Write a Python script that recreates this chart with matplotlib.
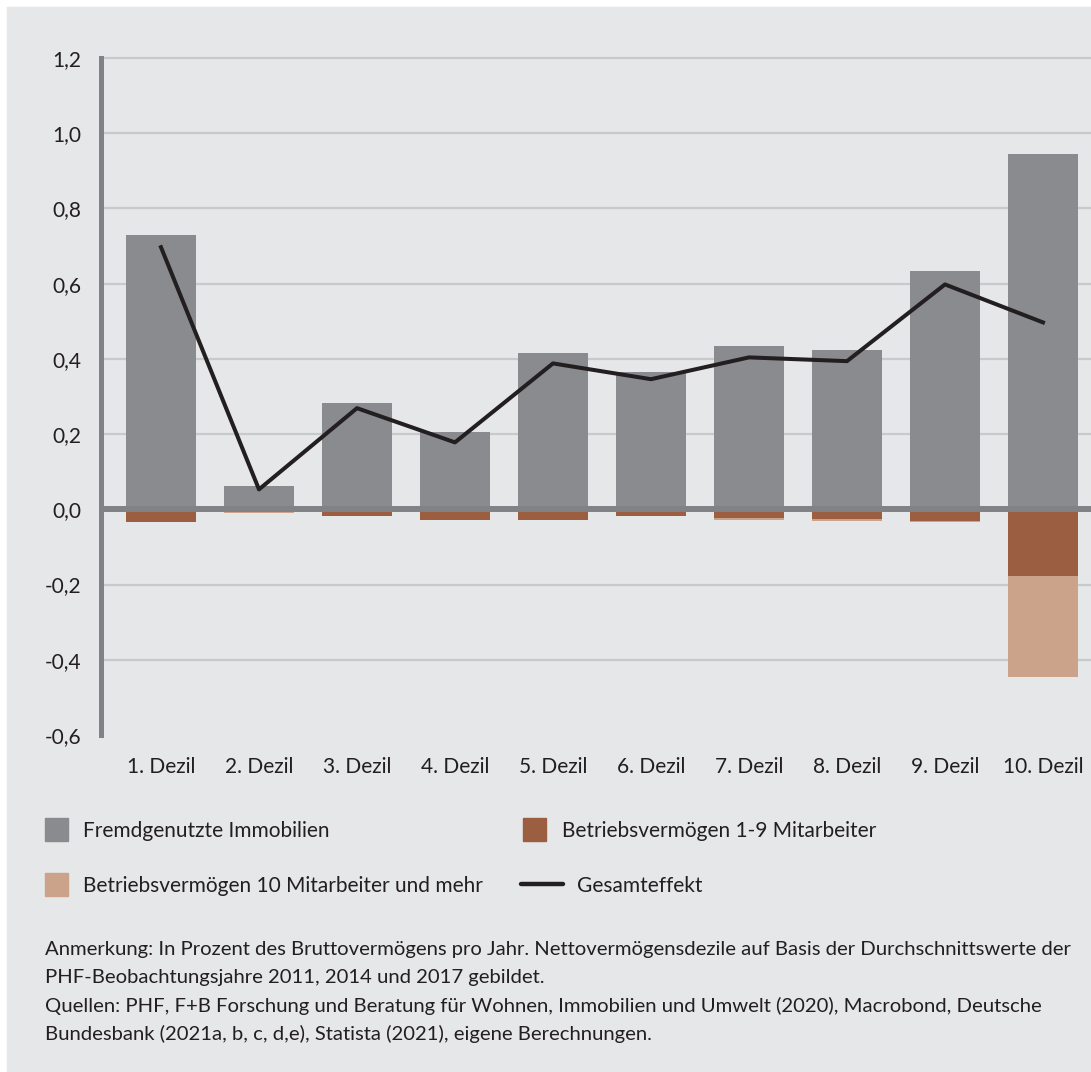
import matplotlib
matplotlib.use("Agg")
import matplotlib.pyplot as plt
from matplotlib.patches import Rectangle
from matplotlib.lines import Line2D

W, H = 1091, 1072
BG = "#e6e7e8"
GRID = "#c8c9cb"
AXIS = "#808285"
TEXT = "#231f20"
GRAY = "#8a8b8e"
BROWN = "#9b5e40"
LIGHT = "#cba38a"

categories = ["1. Dezil", "2. Dezil", "3. Dezil", "4. Dezil", "5. Dezil",
              "6. Dezil", "7. Dezil", "8. Dezil", "9. Dezil", "10. Dezil"]
immobilien = [0.729, 0.061, 0.282, 0.205, 0.415, 0.364, 0.434, 0.423, 0.633, 0.944]
betrieb_1_9 = [-0.034, -0.003, -0.019, -0.029, -0.029, -0.019, -0.024, -0.027, -0.032, -0.178]
betrieb_10 = [0.0, -0.008, 0.0, 0.0, 0.0, 0.0, -0.005, -0.005, -0.003, -0.269]
gesamt = [0.697, 0.053, 0.269, 0.178, 0.388, 0.346, 0.404, 0.394, 0.598, 0.497]
y_ticks = [-0.6, -0.4, -0.2, 0.0, 0.2, 0.4, 0.6, 0.8, 1.0, 1.2]
y_labels = ["-0,6", "-0,4", "-0,2", "0,0", "0,2", "0,4", "0,6", "0,8", "1,0", "1,2"]

plt.rcParams["font.family"] = ["Lato", "DejaVu Sans"]
plt.rcParams["text.color"] = TEXT
FS = 15


def main():
    fig = plt.figure(figsize=(W / 100, H / 100), dpi=100, facecolor="white")
    fig.patches.append(Rectangle((7 / W, 0), 1 - 7 / W, 1 - 7 / H,
                                 transform=fig.transFigure, color=BG, zorder=-5))

    ax = fig.add_axes([101 / W, 1 - 735 / H, 1 - 101 / W, (735 - 58) / H])
    ax.set_facecolor(BG)
    x = list(range(len(categories)))

    for t in y_ticks:
        if t not in (0.0, -0.6):
            ax.axhline(t, color=GRID, lw=1.6, zorder=1, clip_on=False)

    ax.bar(x, immobilien, width=0.72, color=GRAY, zorder=2)
    ax.bar(x, betrieb_1_9, width=0.72, color=BROWN, zorder=2)
    ax.bar(x, betrieb_10, width=0.72, bottom=betrieb_1_9, color=LIGHT, zorder=2)
    ax.axhline(0, color=AXIS, lw=4.3, zorder=3)
    ax.plot(x, gesamt, color=TEXT, lw=2.9, zorder=4)

    ax.set_xlim(-0.612, 9.49)
    ax.set_ylim(-0.6, 1.2)
    ax.set_yticks(y_ticks)
    ax.set_yticklabels(y_labels)
    ax.set_xticks(x)
    ax.set_xticklabels(categories)
    ax.tick_params(axis="y", length=0, pad=14.4, labelsize=FS, labelcolor=TEXT)
    ax.tick_params(axis="x", length=0, pad=16, labelsize=FS, labelcolor=TEXT)
    for s in ("top", "right", "bottom"):
        ax.spines[s].set_visible(False)
    ax.spines["left"].set_color(AXIS)
    ax.spines["left"].set_linewidth(3.6)

    # legend drawn by hand in pixel positions
    def fy(py):
        return 1 - py / H

    items = [
        ("patch", GRAY, 45, 829.5, "Fremdgenutzte Immobilien", 83, 837),
        ("patch", BROWN, 523, 829.5, "Betriebsvermögen 1-9 Mitarbeiter", 562, 837),
        ("patch", LIGHT, 45, 884.5, "Betriebsvermögen 10 Mitarbeiter und mehr", 83, 892),
        ("line", TEXT, 521, 884, "Gesamteffekt", 577, 892),
    ]
    for kind, col, px, py, label, tx, ty in items:
        if kind == "patch":
            fig.patches.append(Rectangle((px / W, fy(py + 11.5)), 23 / W, 23 / H,
                                         transform=fig.transFigure, color=col))
        else:
            fig.lines.append(Line2D([px / W, (px + 42) / W], [fy(py), fy(py)],
                                    transform=fig.transFigure, color=col, lw=3.2,
                                    solid_capstyle="round"))
        fig.text(tx / W, fy(ty), label, fontsize=FS, va="baseline", ha="left")

    notes = [
        "Anmerkung: In Prozent des Bruttovermögens pro Jahr. Nettovermögensdezile auf Basis der Durchschnittswerte der",
        "PHF-Beobachtungsjahre 2011, 2014 und 2017 gebildet.",
        "Quellen: PHF, F+B Forschung und Beratung für Wohnen, Immobilien und Umwelt (2020), Macrobond, Deutsche",
        "Bundesbank (2021a, b, c, d,e), Statista (2021), eigene Berechnungen.",
    ]
    for line, base in zip(notes, [955, 983, 1012, 1040]):
        fig.text(45 / W, fy(base), line, fontsize=14.6, va="baseline", ha="left")

    fig.savefig("out.png", dpi=100, facecolor=fig.get_facecolor())


if __name__ == "__main__":
    main()
